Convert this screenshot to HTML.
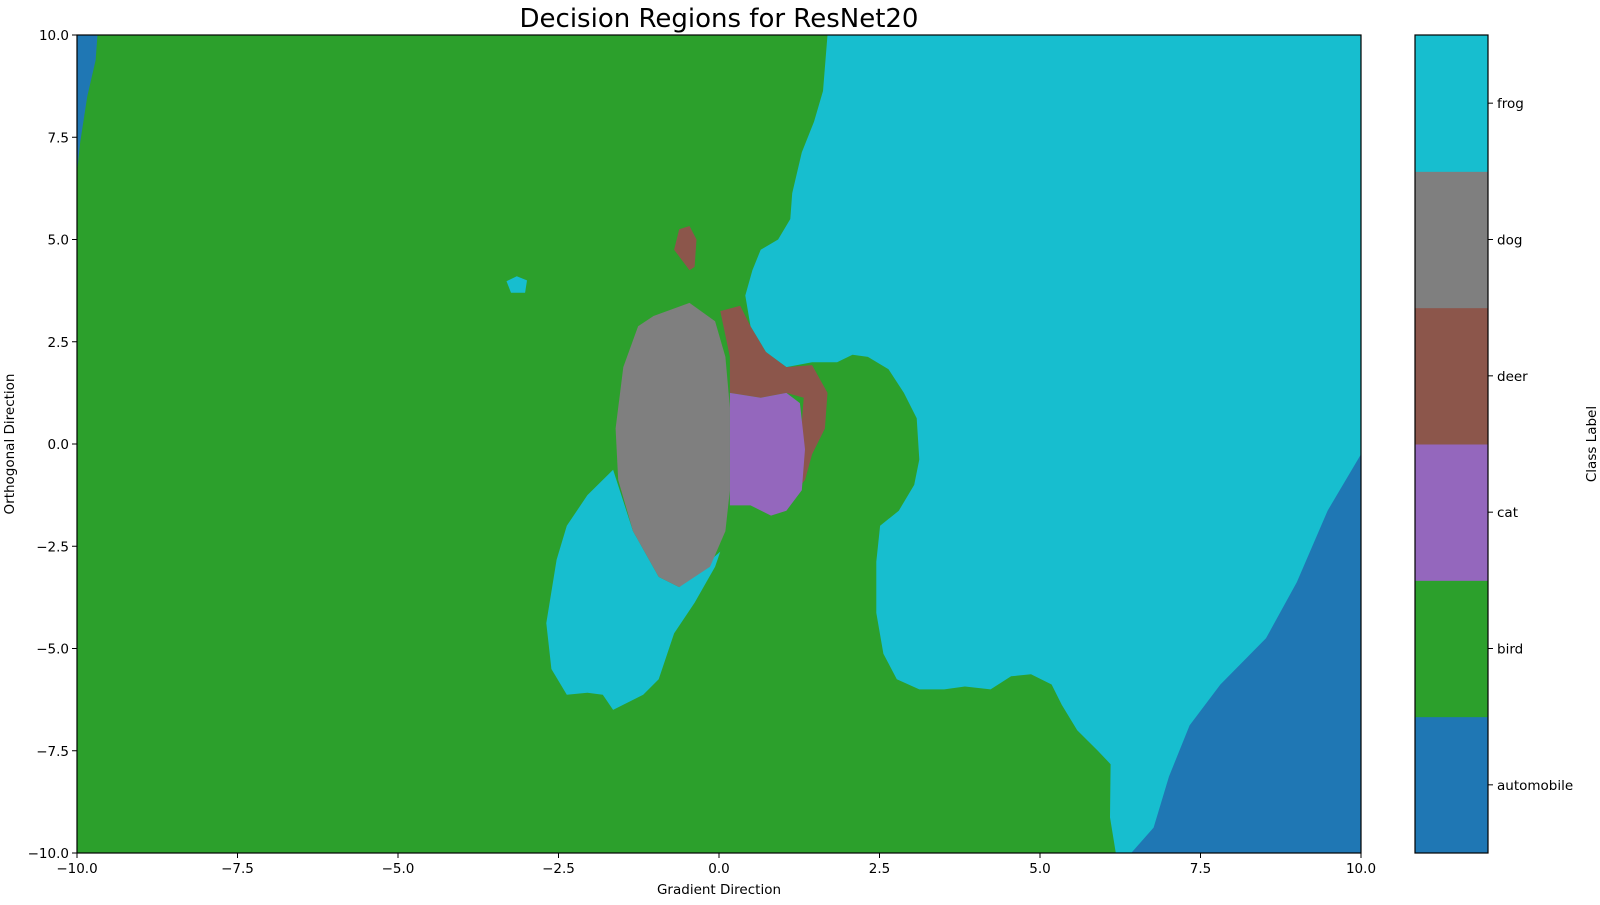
<!DOCTYPE html>
<html><head><meta charset="utf-8"><style>
body{margin:0;background:#fff;width:1600px;height:900px;overflow:hidden}
svg text{font-family:"DejaVu Sans","Liberation Sans",sans-serif;fill:#000}
</style></head><body>
<svg id="chart" width="1600" height="900" xmlns="http://www.w3.org/2000/svg">
<text x="719" y="27" font-size="26" text-anchor="middle">Decision Regions for ResNet20</text>
<g id="plot"></g>
<g id="axes"></g>
<text x="719" y="894" font-size="13.5" text-anchor="middle">Gradient Direction</text>
<text x="14" y="444" font-size="13.5" text-anchor="middle" transform="rotate(-90 14 444)">Orthogonal Direction</text>
<g id="cbar"></g>
<text x="1596" y="444" font-size="13.5" text-anchor="middle" transform="rotate(-90 1596 444)">Class Label</text>
</svg>
<script>
const classNames=["automobile","bird","cat","deer","dog","frog"];
const classColors=["#1f77b4","#2ca02c","#9467bd","#8c564b","#7f7f7f","#17becf"];
const xTicks=[-10,-7.5,-5,-2.5,0,2.5,5,7.5,10];
const yTicks=[-10,-7.5,-5,-2.5,0,2.5,5,7.5,10];
const frogMain=[[1.69,10],[1.62,8.63],[1.48,7.88],[1.29,7.13],[1.14,6.13],[1.11,5.5],[0.92,5],[0.65,4.75],[0.52,4.25],[0.41,3.63],[0.49,2.88],[0.73,2.25],[1.05,1.88],[1.45,2.0],[1.84,2.0],[2.08,2.18],[2.32,2.13],[2.64,1.83],[2.88,1.25],[3.08,0.63],[3.12,-0.38],[3.04,-1.0],[2.8,-1.63],[2.51,-2.0],[2.45,-2.88],[2.45,-4.13],[2.56,-5.13],[2.77,-5.75],[3.12,-6.0],[3.51,-6.0],[3.83,-5.93],[4.23,-6.0],[4.55,-5.68],[4.86,-5.63],[5.18,-5.88],[5.34,-6.38],[5.58,-7.0],[5.9,-7.5],[6.1,-7.83],[6.09,-9.13],[6.18,-10],[10,-10],[10,10]];
const autoRight=[[6.42,-10],[6.77,-9.38],[7.01,-8.13],[7.33,-6.88],[7.81,-5.88],[8.52,-4.75],[9.0,-3.38],[9.48,-1.63],[10,-0.25],[10,-10]];
const autoTopLeft=[[-10,10],[-9.68,10],[-9.71,9.38],[-9.84,8.5],[-9.95,7.38],[-10,6.63]];
const frogLeft=[[-1.65,-0.63],[-1.34,-2.13],[-0.94,-3.25],[-0.62,-3.5],[0.02,-2.63],[-0.06,-3.0],[-0.38,-3.88],[-0.7,-4.63],[-0.94,-5.75],[-1.18,-6.13],[-1.65,-6.5],[-1.81,-6.13],[-2.05,-6.08],[-2.37,-6.13],[-2.61,-5.5],[-2.69,-4.38],[-2.53,-2.83],[-2.37,-2.0],[-2.05,-1.25]];
const deerMain=[[0.02,3.25],[0.33,3.38],[0.49,2.88],[0.73,2.25],[1.05,1.88],[1.45,1.93],[1.69,1.25],[1.65,0.38],[1.45,-0.25],[1.34,-0.88],[1.21,-1.13],[1.32,1.13],[1.05,1.25],[0.65,1.13],[0.17,1.25],[0.17,2.13]];
const dogMain=[[-1.02,3.13],[-0.46,3.45],[-0.06,3.0],[0.1,2.13],[0.17,0.88],[0.17,-1.13],[0.1,-2.13],[-0.14,-3.0],[-0.62,-3.5],[-0.94,-3.25],[-1.34,-2.13],[-1.57,-0.88],[-1.61,0.38],[-1.49,1.88],[-1.26,2.88]];
const catMain=[[0.17,1.25],[0.65,1.13],[1.05,1.25],[1.26,1.0],[1.34,-0.13],[1.29,-1.13],[1.05,-1.63],[0.81,-1.75],[0.49,-1.5],[0.17,-1.5]];
const deerSmall=[[-0.62,5.25],[-0.46,5.33],[-0.35,5.0],[-0.38,4.33],[-0.46,4.25],[-0.7,4.75]];
const frogSmall=[[-3.31,3.98],[-3.15,4.1],[-2.99,4.0],[-3.02,3.7],[-3.24,3.7]];

const X0=77,X1=1361,Y0=35,Y1=853;
const sx=v=>X0+(v+10)/20*(X1-X0);
const sy=v=>Y1-(v+10)/20*(Y1-Y0);
const NS="http://www.w3.org/2000/svg";
function mk(t,a,p){const e=document.createElementNS(NS,t);for(const k in a)e.setAttribute(k,a[k]);p.appendChild(e);return e;}
const plot=document.getElementById('plot'),axes=document.getElementById('axes'),cbar=document.getElementById('cbar');
const bg=mk('rect',{x:sx(-10),y:sy(10),width:sx(10)-sx(-10),height:sy(-10)-sy(10),fill:classColors[1]},plot);


const regions=[[frogMain,5,'region-frog-main'],[autoRight,0,'region-automobile-right'],[autoTopLeft,0,'region-automobile-top-left'],[frogLeft,5,'region-frog-left'],[deerMain,3,'region-deer-main'],[dogMain,4,'region-dog'],[catMain,2,'region-cat'],[deerSmall,3,'region-deer-small'],[frogSmall,5,'region-frog-small']];
regions.forEach(r=>{
  const p=mk('polygon',{points:r[0].map(q=>sx(q[0]).toFixed(1)+','+sy(q[1]).toFixed(1)).join(' '),fill:classColors[r[1]],'stroke-linejoin':'round'},plot);
  
  
});
const fr=mk('rect',{x:X0,y:Y0,width:X1-X0,height:Y1-Y0,fill:'none',stroke:'#000','stroke-width':1.2},axes);


const fmt=v=>(v<0?'\u2212':'')+Math.abs(v).toFixed(1);
xTicks.forEach(v=>{
  mk('line',{x1:sx(v),x2:sx(v),y1:Y1,y2:Y1+5,stroke:'#000'},axes);
  const t=mk('text',{x:sx(v),y:Y1+20,'font-size':13.5,'text-anchor':'middle'},axes);t.textContent=fmt(v);
  
  
});
yTicks.forEach(v=>{
  mk('line',{x1:X0-5,x2:X0,y1:sy(v),y2:sy(v),stroke:'#000'},axes);
  const t=mk('text',{x:X0-8,y:sy(v)+5,'font-size':13.5,'text-anchor':'end'},axes);t.textContent=fmt(v);
  
  
});
const CX0=1415,CX1=1488,n=classNames.length,h=(Y1-Y0)/n;
classNames.forEach((c,i)=>{
  const y=Y1-(i+1)*h;
  const r=mk('rect',{x:CX0,y:y,width:CX1-CX0,height:h+0.5,fill:classColors[i]},cbar);
  
  
  mk('line',{x1:CX1,x2:CX1+5,y1:y+h/2,y2:y+h/2,stroke:'#000'},cbar);
  const t=mk('text',{x:CX1+9,y:y+h/2+5,'font-size':13.5},cbar);t.textContent=c;
  
  
});
const cf=mk('rect',{x:CX0,y:Y0,width:CX1-CX0,height:Y1-Y0,fill:'none',stroke:'#000','stroke-width':1.2},cbar);


</script>
</body></html>
